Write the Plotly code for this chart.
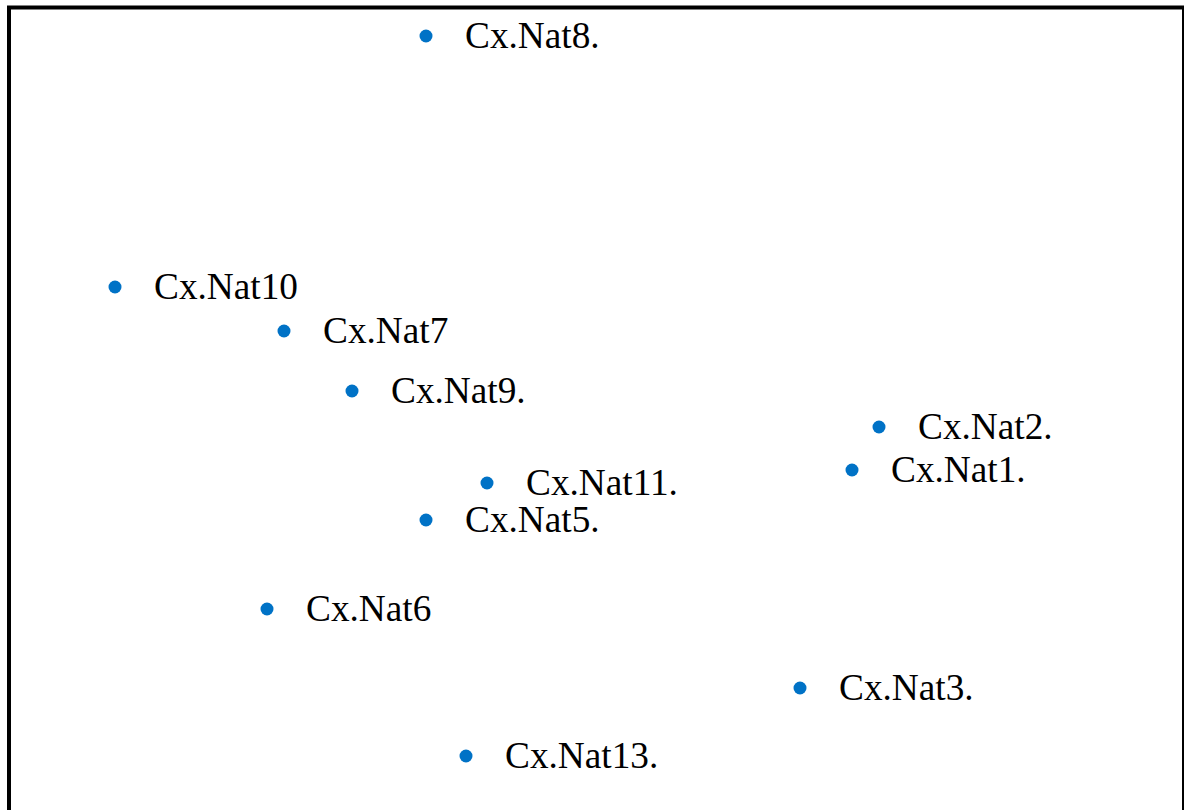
import plotly.graph_objects as go

labels = ["Cx.Nat8.", "Cx.Nat10", "Cx.Nat7", "Cx.Nat9.", "Cx.Nat2.", "Cx.Nat1.",
          "Cx.Nat11.", "Cx.Nat5.", "Cx.Nat6", "Cx.Nat3.", "Cx.Nat13."]
dim1 = [-1.66, -4.77, -3.08, -2.40, 2.87, 2.60, -1.05, -1.66, -3.25, 2.08, -1.26]
dim2 = [3.69, 1.18, 0.74, 0.14, -0.22, -0.65, -0.78, -1.15, -2.04, -2.83, -3.51]

W, H = 1184, 810
x_range = [-5.92, 5.92]
y_range = [-4.05, 4.05]

serif = "'Liberation Serif', 'Times New Roman', Times, 'DejaVu Serif', serif"

fig = go.Figure()
fig.add_trace(go.Scatter(
    x=dim1, y=dim2, mode="markers",
    marker=dict(size=13, color="#0072C6", line=dict(width=0)),
    hoverinfo="text", text=labels, showlegend=False,
))

for xv, yv, lab in zip(dim1, dim2, labels):
    fig.add_annotation(
        x=xv, y=yv, text=lab, showarrow=False,
        xanchor="left", yanchor="middle", xshift=37, yshift=1,
        font=dict(family=serif, size=37.3, color="black"),
    )

# frame (partially outside the visible page)
fig.add_shape(type="rect", xref="paper", yref="paper",
              x0=9 / W, x1=1.0, y0=-0.05, y1=1 - 7.5 / H,
              line=dict(color="black", width=4), fillcolor="rgba(0,0,0,0)")

fig.update_xaxes(range=x_range, visible=False, showgrid=False, zeroline=False)
fig.update_yaxes(range=y_range, visible=False, showgrid=False, zeroline=False)
fig.update_layout(
    width=W, height=H,
    margin=dict(l=0, r=0, t=0, b=0),
    paper_bgcolor="white", plot_bgcolor="white",
    font=dict(family=serif),
)
fig.write_html("out.html", config={"displayModeBar": False},
               post_script="document.body.style.margin='0';document.body.style.overflow='hidden';")
